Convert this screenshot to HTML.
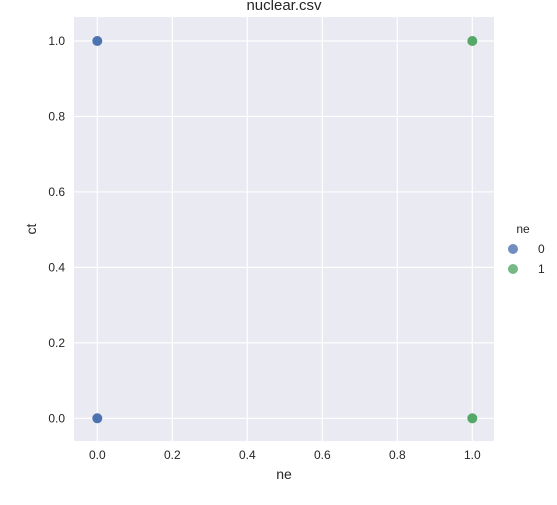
<!DOCTYPE html>
<html><head><meta charset="utf-8"><style>
body{margin:0;background:#fff}
svg text{font-family:"Liberation Sans",sans-serif;fill:#262626}
</style></head><body>
<svg width="557" height="500" xmlns="http://www.w3.org/2000/svg">
<rect x="74" y="17" width="420" height="424" fill="#eaeaf2"/>
<g id="grid"></g>
<g id="ticks"></g>
<g id="pts"></g>
<text x="284" y="10" font-size="15" text-anchor="middle">nuclear.csv</text>
<text x="284" y="479" font-size="14" text-anchor="middle">ne</text>
<text x="36" y="229" font-size="14" text-anchor="middle" transform="rotate(-90 36 229)">ct</text>
<g>
<text x="523" y="233" font-size="12" text-anchor="middle">ne</text>
<g><circle cx="513" cy="249" r="5" fill="#4c72b0" opacity="0.8"/><text x="538" y="253" font-size="12">0</text></g>
<g><circle cx="513" cy="269" r="5" fill="#55a868" opacity="0.8"/><text x="538" y="273" font-size="12">1</text></g>
</g>
</svg>
<script>
const xTicks=[0,0.2,0.4,0.6,0.8,1.0];
const yTicks=[0,0.2,0.4,0.6,0.8,1.0];
const neValues=[0,0,1,1];
const ctValues=[0,1,0,1];
const groups=[0,0,1,1];
const colors=['#4c72b0','#55a868'];
const NS='http://www.w3.org/2000/svg';
function xs(v){return 97.3+v*375;}
function ys(v){return 418.3-v*377.3;}
const grid=document.getElementById('grid'),ticks=document.getElementById('ticks'),pts=document.getElementById('pts');
function mk(tag,attrs,parent){const e=document.createElementNS(NS,tag);for(const k in attrs)e.setAttribute(k,attrs[k]);parent.appendChild(e);return e;}
xTicks.forEach(t=>{
  const l=mk('line',{x1:xs(t),x2:xs(t),y1:17,y2:441,stroke:'#fff','stroke-width':1.2},grid);
  
  
  const tx=mk('text',{x:xs(t),y:459,'font-size':12,'text-anchor':'middle'},ticks);
  tx.textContent=t.toFixed(1);
  
  
});
yTicks.forEach(t=>{
  const l=mk('line',{x1:74,x2:494,y1:ys(t),y2:ys(t),stroke:'#fff','stroke-width':1.2},grid);
  
  
  const tx=mk('text',{x:65,y:ys(t)+4,'font-size':12,'text-anchor':'end'},ticks);
  tx.textContent=t.toFixed(1);
  
  
});
neValues.forEach((v,i)=>{
  const c=mk('circle',{cx:xs(v),cy:ys(ctValues[i]),r:5,fill:colors[groups[i]]},pts);
  
  
});
</script>
</body></html>
